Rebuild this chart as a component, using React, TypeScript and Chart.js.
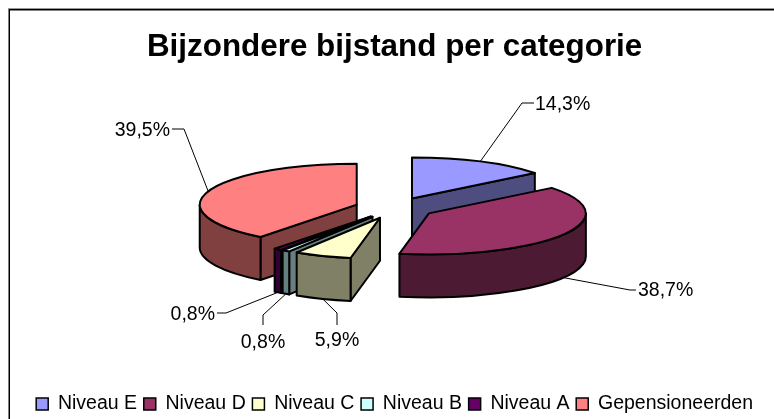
import React, { useEffect, useRef } from "react";
import { Chart, registerables } from "chart.js";

Chart.register(...registerables);

const categories = ["Niveau E", "Niveau D", "Niveau C", "Niveau B", "Niveau A", "Gepensioneerden"];
const shares = [14.3, 38.7, 5.9, 0.8, 0.8, 39.5];
const topColors = ["#9999FF", "#993366", "#FFFFCC", "#CCFFFF", "#660066", "#FF8080"];
const wallColors = ["#4D4D80", "#4D1A33", "#808066", "#668080", "#330033", "#804040"];
const shareLabels = ["14,3%", "38,7%", "5,9%", "0,8%", "0,8%", "39,5%"];

const FONT = "'Liberation Sans', Arial, sans-serif";
const SQUASH = 0.261;
const DEPTH = 43;
const EXPLODE = 0.255;

// Layout of the leader lines: elbow, end of the line, then text anchor.
const leaders: Record<number, { knee: number[]; end: number[]; align: CanvasTextAlign; text: number[] }> = {
  0: { knee: [522, 103], end: [534, 103], align: "left", text: [535, 105] },
  1: { knee: [630, 290], end: [636, 290], align: "left", text: [638, 291] },
  2: { knee: [337, 313], end: [337, 325], align: "center", text: [337, 341] },
  3: { knee: [263, 315], end: [263, 325], align: "center", text: [263, 343] },
  4: { knee: [226, 313], end: [217, 313], align: "right", text: [215, 315] },
  5: { knee: [184, 129], end: [172, 129], align: "right", text: [170, 131] },
};

const pie3d = {
  id: "pie3d",
  beforeDraw(chart: any) {
    const { ctx, width, height } = chart;
    ctx.save();
    ctx.fillStyle = "#fff";
    ctx.fillRect(0, 0, width, height);
    ctx.strokeStyle = "#999";
    ctx.lineWidth = 1;
    ctx.beginPath();
    ctx.moveTo(8, 8.5);
    ctx.lineTo(width, 8.5);
    ctx.stroke();
    ctx.strokeStyle = "#000";
    ctx.lineWidth = 1.5;
    ctx.beginPath();
    ctx.moveTo(9.25, height);
    ctx.lineTo(9.25, 9.75);
    ctx.lineTo(width, 9.75);
    ctx.stroke();
    ctx.restore();
  },
  beforeDatasetsDraw(chart: any) {
    const ctx = chart.ctx as CanvasRenderingContext2D;
    const arcs = chart.getDatasetMeta(0).data as any[];
    const slices = arcs.map((el: any, i: number) => {
      const mid = (el.startAngle + el.endAngle) / 2;
      const rx = el.outerRadius;
      const ry = rx * SQUASH;
      return {
        i,
        s: el.startAngle,
        e: el.endAngle,
        mid,
        rx,
        ry,
        cx: el.x + Math.cos(mid) * rx * EXPLODE,
        cy: el.y + Math.sin(mid) * rx * EXPLODE * SQUASH,
      };
    });
    const depthOrder = [...slices].sort(
      (a, b) => Math.abs(b.mid - Math.PI / 2) - Math.abs(a.mid - Math.PI / 2)
    );

    ctx.save();
    ctx.lineJoin = "round";
    ctx.strokeStyle = "#000";
    ctx.lineWidth = 2;

    const face = (p: any, ang: number, color: string) => {
      const x = p.cx + p.rx * Math.cos(ang);
      const y = p.cy + p.ry * Math.sin(ang);
      ctx.beginPath();
      ctx.moveTo(p.cx, p.cy);
      ctx.lineTo(x, y);
      ctx.lineTo(x, y + DEPTH);
      ctx.lineTo(p.cx, p.cy + DEPTH);
      ctx.closePath();
      ctx.fillStyle = color;
      ctx.fill();
      ctx.stroke();
    };

    for (const p of depthOrder) {
      const wall = wallColors[p.i];
      if (Math.cos(p.s) < -1e-6) face(p, p.s, wall);
      if (Math.cos(p.e) > 1e-6) face(p, p.e, wall);
      const a0 = Math.max(p.s, 0);
      const a1 = Math.min(p.e, Math.PI);
      if (a1 > a0) {
        ctx.beginPath();
        ctx.ellipse(p.cx, p.cy, p.rx, p.ry, 0, a0, a1);
        ctx.ellipse(p.cx, p.cy + DEPTH, p.rx, p.ry, 0, a1, a0, true);
        ctx.closePath();
        ctx.fillStyle = wall;
        ctx.fill();
        ctx.stroke();
      }
      ctx.beginPath();
      ctx.moveTo(p.cx, p.cy);
      ctx.ellipse(p.cx, p.cy, p.rx, p.ry, 0, p.s, p.e);
      ctx.closePath();
      ctx.fillStyle = topColors[p.i];
      ctx.fill();
      ctx.stroke();
    }

    ctx.lineWidth = 1;
    ctx.fillStyle = "#000";
    ctx.font = `19.5px ${FONT}`;
    ctx.textBaseline = "middle";
    for (const p of slices) {
      const l = leaders[p.i];
      const sx = p.cx + p.rx * Math.cos(p.mid);
      const front = Math.sin(p.mid) > 0;
      const sy = p.cy + p.ry * Math.sin(p.mid) + (front ? DEPTH : 0);
      ctx.beginPath();
      ctx.moveTo(sx, sy);
      ctx.lineTo(l.knee[0], l.knee[1]);
      ctx.lineTo(l.end[0], l.end[1]);
      ctx.stroke();
      ctx.textAlign = l.align;
      ctx.fillText(shareLabels[p.i], l.text[0], l.text[1]);
    }
    ctx.restore();
    return false;
  },
};

export default function App() {
  const ref = useRef<HTMLCanvasElement>(null);
  useEffect(() => {
    const chart = new Chart(ref.current as HTMLCanvasElement, {
      type: "pie",
      data: {
        labels: categories,
        datasets: [
          {
            data: shares,
            backgroundColor: topColors,
            borderColor: "#000",
            borderWidth: 1.5,
          },
        ],
      },
      options: {
        responsive: false,
        animation: false,
        radius: 157,
        layout: { padding: { left: 15.2, right: 0, top: 0, bottom: -4.7 } },
        plugins: {
          tooltip: { enabled: false },
          title: {
            display: true,
            text: "Bijzondere bijstand per categorie",
            color: "#000",
            font: { family: FONT, size: 31.4, weight: "bold" },
            padding: { top: 28.15, bottom: -37.35 },
          },
          legend: {
            display: true,
            position: "bottom",
            labels: {
              color: "#000",
              font: { family: FONT, size: 19.5 },
              boxWidth: 12,
              boxHeight: 12,
              padding: 6.7,
            },
          },
        },
      } as any,
      plugins: [pie3d as any],
    });
    return () => chart.destroy();
  }, []);
  return (
    <div style={{ position: "absolute", left: 0, top: 0, width: 774, height: 419, overflow: "hidden", background: "#fff" }}>
      <canvas ref={ref} width={774} height={419} style={{ display: "block" }} />
    </div>
  );
}
